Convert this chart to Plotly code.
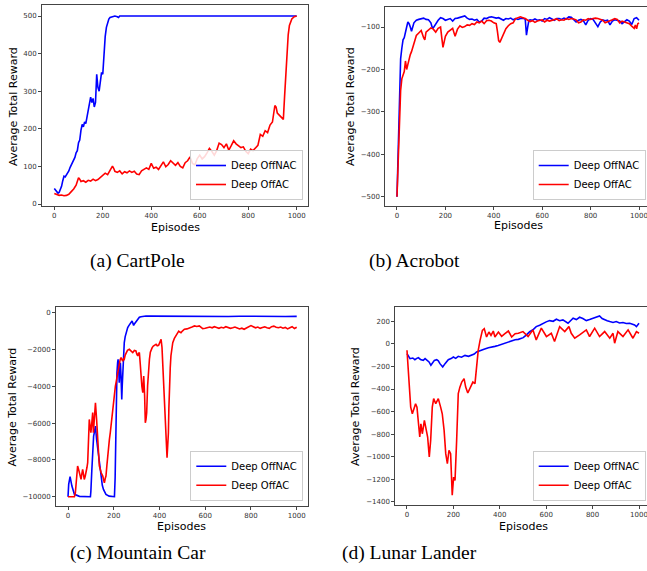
import plotly.graph_objects as go

# ---------------- data ----------------
# (a) CartPole
cp_nac_x = [0, 5, 10, 15, 20, 25, 30, 35, 40, 45, 50, 55, 60, 65, 70, 75, 80, 85, 90, 95, 100, 105, 110, 115, 120, 125,
            130, 135, 140, 145, 150, 155, 160, 165, 170, 175, 180, 185, 190, 195, 200, 205, 210, 215, 220, 225, 230, 240,
            250, 260, 265, 270, 280, 300, 400, 500, 600, 700, 800, 900, 1000]
cp_nac_y = [41, 36, 32, 29, 31, 40, 47, 62, 74, 72, 77, 82, 88, 97, 104, 112, 118, 124, 136, 142, 163, 170, 196, 212, 205,
            218, 214, 232, 247, 276, 284, 270, 281, 258, 270, 345, 310, 300, 322, 350, 345, 410, 445, 470, 485, 492, 496,
            499, 500, 498, 496, 500, 500, 500, 500, 500, 500, 500, 500, 500, 500]
cp_ac_x = [0, 10, 20, 30, 40, 50, 60, 70, 80, 90, 100, 105, 110, 120, 130, 140, 150, 160, 170, 180, 190, 200, 210, 220, 230,
           240, 245, 250, 260, 270, 280, 290, 300, 310, 320, 330, 340, 350, 360, 370, 380, 390, 400, 410, 420, 430, 440,
           450, 460, 470, 480, 490, 500, 510, 520, 530, 540, 550, 560, 570, 580, 590, 600, 610, 620, 630, 640, 650, 660,
           670, 680, 690, 700, 710, 720, 730, 740, 750, 760, 770, 780, 790, 800, 810, 820, 830, 840, 850, 860, 870, 880,
           890, 900, 910, 915, 920, 930, 940, 945, 950, 955, 960, 965, 970, 980, 990, 1000]
cp_ac_y = [28, 25, 23, 24, 22, 23, 26, 33, 40, 50, 70, 66, 60, 62, 58, 63, 61, 66, 62, 65, 70, 75, 82, 78, 88, 101, 95, 87,
           84, 88, 80, 86, 83, 88, 84, 87, 80, 78, 88, 91, 96, 92, 108, 95, 98, 92, 104, 112, 99, 105, 115, 108, 103, 110,
           100, 96, 110, 115, 125, 108, 104, 121, 130, 120, 126, 136, 148, 140, 130, 142, 162, 158, 150, 160, 143, 155,
           168, 160, 156, 150, 152, 140, 134, 146, 142, 150, 156, 185, 180, 195, 190, 210, 218, 262, 258, 242, 235, 230,
           225, 285, 345, 410, 450, 475, 492, 498, 500]

# (b) Acrobot
ac_nac_x = [0, 5, 10, 15, 20, 25, 30, 35, 40, 45, 50, 55, 60, 70, 80, 90, 100, 110, 120, 130, 140, 145, 150, 160, 170, 180,
            190, 200, 210, 220, 230, 240, 250, 260, 270, 280, 290, 300, 310, 320, 330, 340, 350, 360, 370, 380, 390, 400,
            410, 420, 430, 440, 450, 460, 470, 480, 490, 500, 510, 520, 530, 535, 540, 545, 550, 560, 570, 580, 590, 600,
            610, 620, 630, 640, 650, 660, 670, 680, 690, 700, 710, 720, 730, 740, 750, 760, 770, 780, 790, 800, 810, 820,
            830, 840, 850, 860, 870, 880, 890, 900, 910, 920, 930, 940, 950, 960, 970, 980, 990, 1000]
ac_nac_y = [-500, -380, -260, -175, -150, -130, -125, -108, -100, -88, -92, -100, -110, -90, -84, -82, -81, -79, -82, -83,
            -90, -100, -102, -92, -84, -78, -80, -84, -82, -80, -86, -80, -79, -77, -76, -74, -79, -82, -81, -84, -82, -88,
            -86, -79, -80, -77, -76, -78, -79, -78, -82, -84, -80, -81, -79, -83, -80, -82, -80, -79, -82, -119, -100, -84,
            -83, -84, -81, -84, -83, -86, -80, -82, -78, -81, -84, -80, -80, -82, -79, -81, -76, -77, -82, -88, -84, -82,
            -85, -95, -84, -80, -82, -90, -99, -88, -83, -85, -84, -95, -86, -83, -84, -86, -92, -88, -83, -86, -94, -80,
            -78, -84]
ac_ac_x = [0, 5, 10, 15, 20, 25, 30, 35, 40, 45, 50, 55, 60, 65, 70, 75, 80, 90, 100, 110, 115, 120, 130, 140, 150, 160,
           170, 180, 185, 190, 195, 200, 210, 220, 230, 240, 245, 250, 260, 270, 280, 290, 300, 310, 320, 330, 340, 350,
           360, 370, 380, 390, 400, 410, 415, 420, 425, 430, 435, 440, 450, 460, 470, 480, 490, 500, 510, 520, 530, 540,
           550, 560, 570, 580, 590, 600, 610, 620, 630, 640, 650, 660, 670, 680, 690, 700, 710, 720, 730, 740, 750, 760,
           770, 780, 790, 800, 810, 820, 830, 840, 850, 860, 870, 880, 890, 900, 910, 920, 930, 940, 950, 960, 970, 980,
           985, 990, 995, 1000]
ac_ac_y = [-500, -400, -300, -250, -222, -210, -205, -180, -200, -188, -175, -165, -158, -148, -140, -128, -120, -114, -108,
           -125, -130, -112, -108, -102, -105, -112, -103, -100, -125, -148, -135, -122, -112, -108, -103, -122, -110,
           -105, -97, -101, -99, -95, -96, -92, -94, -88, -90, -86, -92, -85, -84, -86, -90, -92, -110, -132, -136, -130,
           -125, -118, -104, -97, -92, -90, -80, -78, -76, -78, -80, -84, -87, -85, -89, -86, -84, -83, -88, -84, -86,
           -84, -82, -81, -85, -83, -84, -80, -82, -80, -81, -83, -90, -88, -83, -84, -80, -82, -80, -79, -80, -82, -84,
           -90, -88, -85, -83, -80, -82, -90, -86, -88, -90, -92, -98, -103, -95, -104, -92, -90]

# (c) Mountain Car
mc_nac_x = [0, 3, 9, 17, 28, 50, 98, 100, 104, 108, 112, 115, 120, 125, 130, 135, 140, 145, 150, 155, 160, 166, 180, 200,
            203, 206, 208, 210, 212, 214, 217, 219, 222, 224, 227, 229, 232, 235, 237, 239, 243, 246, 250, 254, 258, 261,
            266, 271, 276, 280, 284, 287, 291, 294, 300, 305, 312, 319, 330, 341, 360, 400, 450, 500, 550, 600, 650, 700,
            750, 800, 850, 900, 950, 1000]
mc_nac_y = [-10000, -9330, -8910, -9420, -9870, -9980, -10000, -9700, -8600, -7240, -6700, -6520, -6160, -6880, -7400,
            -8000, -8600, -9050, -9380, -9600, -9760, -9870, -9970, -10000, -10000, -9000, -7000, -5070, -4000, -3260,
            -2700, -2530, -3200, -3800, -3000, -2720, -3500, -4710, -4000, -3260, -2400, -1630, -1300, -1080, -900, -810,
            -700, -630, -520, -450, -580, -690, -600, -540, -420, -325, -250, -220, -190, -180, -185, -190, -185, -195,
            -190, -200, -195, -205, -190, -200, -195, -200, -205, -200]
mc_ac_x = [0, 28, 32, 35, 38, 42, 46, 50, 54, 57, 60, 64, 68, 71, 75, 79, 83, 86, 90, 93, 97, 100, 104, 108, 111, 115, 120,
           125, 130, 134, 137, 145, 152, 156, 159, 163, 166, 170, 173, 177, 181, 185, 188, 192, 195, 199, 203, 207, 210,
           214, 217, 221, 224, 228, 232, 236, 239, 243, 246, 250, 254, 260, 268, 275, 283, 290, 297, 301, 305, 309, 312,
           316, 319, 323, 327, 331, 335, 338, 341, 344, 348, 352, 356, 360, 363, 368, 373, 379, 385, 390, 396, 402, 407,
           411, 414, 418, 421, 425, 429, 431, 433, 436, 439, 441, 443, 447, 450, 454, 458, 465, 472, 478, 484, 489, 494,
           500, 509, 520, 531, 542, 553, 563, 574, 582, 589, 600, 610, 620, 630, 640, 650, 660, 670, 680, 690, 700, 710,
           720, 730, 740, 750, 760, 770, 780, 790, 800, 810, 820, 830, 840, 850, 860, 870, 880, 890, 900, 910, 920, 930,
           940, 950, 960, 970, 980, 990, 1000]
mc_ac_y = [-10000, -10000, -9800, -9420, -8900, -8330, -8500, -8700, -8900, -9060, -8800, -8510, -8800, -9060, -8900,
           -8700, -8400, -8150, -7000, -5800, -6200, -6520, -6000, -5430, -6520, -5800, -4890, -5800, -7240, -7900, -8330,
           -8700, -8880, -9100, -9240, -9000, -8880, -8300, -7790, -7300, -6880, -6500, -6160, -5600, -5070, -4700, -4350,
           -4000, -3800, -3500, -3260, -3000, -2720, -2550, -2440, -2600, -2630, -2500, -2530, -2300, -2170, -2050, -1990,
           -2100, -2170, -2050, -2080, -2250, -2350, -2200, -2170, -2800, -3620, -4000, -4350, -3440, -4500, -5980, -5800,
           -5430, -3980, -3000, -2530, -2150, -1990, -1900, -1810, -1750, -1720, -1800, -1770, -1600, -1450, -1900, -2720,
           -3700, -4710, -5600, -6520, -7300, -7880, -7200, -6520, -5200, -3980, -3000, -2350, -1950, -1630, -1400, -1270,
           -1100, -1000, -1050, -1090, -1000, -900, -880, -810, -780, -720, -750, -720, -780, -870, -850, -800, -780, -820,
           -760, -800, -850, -790, -830, -760, -800, -850, -820, -780, -830, -880, -840, -900, -830, -760, -700, -760,
           -820, -780, -850, -800, -770, -820, -850, -760, -730, -790, -820, -780, -840, -800, -880, -820, -760, -860, -790]

# (d) Lunar Lander
ll_nac_x = [0, 13, 25, 34, 42, 49, 58, 70, 78, 85, 95, 103, 110, 118, 128, 135, 142, 148, 154, 164, 172, 178, 190, 200,
            210, 221, 235, 250, 265, 279, 290, 300, 311, 322, 335, 351, 365, 379, 393, 408, 422, 437, 452, 466, 480, 501,
            515, 529, 543, 557, 572, 586, 600, 615, 630, 644, 658, 672, 684, 694, 705, 716, 730, 744, 758, 773, 787, 802,
            816, 830, 841, 852, 863, 874, 888, 902, 916, 931, 945, 960, 970, 981, 989, 995, 1000]
ll_nac_y = [-86, -131, -125, -140, -128, -122, -138, -146, -130, -146, -160, -190, -170, -146, -140, -150, -175, -190,
            -205, -175, -160, -140, -130, -116, -128, -110, -118, -102, -110, -102, -90, -72, -62, -51, -45, -34, -30, -22,
            -15, -4, 5, 16, 22, 37, 40, 55, 80, 109, 125, 153, 165, 183, 195, 206, 200, 218, 205, 212, 200, 183, 205, 227,
            215, 236, 225, 206, 215, 227, 235, 248, 225, 212, 205, 198, 190, 198, 185, 189, 180, 183, 175, 168, 153, 165,
            183]
ll_ac_x = [0, 6, 10, 16, 23, 32, 37, 43, 49, 55, 60, 66, 75, 82, 89, 96, 102, 109, 115, 124, 135, 145, 152, 160, 167, 174,
           181, 188, 193, 195, 201, 207, 214, 221, 228, 236, 246, 253, 262, 267, 276, 284, 293, 300, 307, 315, 325, 333,
           343, 353, 362, 372, 379, 394, 408, 422, 437, 451, 466, 480, 500, 522, 543, 557, 579, 601, 622, 636, 658, 680,
           698, 708, 723, 744, 773, 787, 809, 830, 852, 874, 888, 895, 909, 931, 953, 974, 989, 1000]
ll_ac_y = [-57, -235, -383, -560, -619, -560, -530, -560, -678, -825, -708, -796, -678, -766, -825, -1002, -855, -560, -485,
           -530, -485, -560, -619, -766, -972, -1061, -943, -972, -1209, -1341, -1179, -1209, -855, -441, -383, -338, -308,
           -383, -435, -412, -383, -338, -352, -190, -57, 31, 120, 135, 61, 105, 76, 114, 61, 105, 67, 90, 114, 61, 90, 94,
           109, 65, 124, 35, 139, 65, 94, 21, 153, 109, 153, 94, 50, 80, 124, 65, 139, 65, 109, 50, 94, 6, 109, 65, 124,
           50, 109, 94]

x_ticks = [0, 200, 400, 600, 800, 1000]
cp_yticks = [0, 100, 200, 300, 400, 500]
ac_yticks = [-500, -400, -300, -200, -100]
mc_yticks = [-10000, -8000, -6000, -4000, -2000, 0]
ll_yticks = [-1400, -1200, -1000, -800, -600, -400, -200, 0, 200]

captions = ["(a) CartPole", "(b) Acrobot", "(c) Mountain Car", "(d) Lunar Lander"]
series_names = ["Deep OffNAC", "Deep OffAC"]
y_title = "Average Total Reward"
x_title = "Episodes"

# ---------------- layout helpers ----------------
W, H = 647, 571
BLUE, RED = "#0000ff", "#ff0000"
SANS = "DejaVu Sans"


def px(x):
    return x / W


def py(y):
    return 1 - y / H


def fmt(v):
    s = str(abs(v))
    return ("\u2212" + s) if v < 0 else s


panels = [
    dict(data=(cp_nac_x, cp_nac_y, cp_ac_x, cp_ac_y), dx=(42, 308), dy=(5, 206),
         xr=[-50.7, 1046.7], yr=[-5.3, 529.3], yt=cp_yticks, mirror=True,
         leg=(303, 200), ytitle=(13, 107), xtitle=(175, 227), cap=(137.5, 261)),
    dict(data=(ac_nac_x, ac_nac_y, ac_ac_x, ac_ac_y), dx=(385.3, 647), dy=(7.3, 205.7),
         xr=[-48.3, 1033], yr=[-521, -53.5], yt=ac_yticks, mirror=False,
         leg=(645.7, 200), ytitle=(350, 107), xtitle=(518, 226), cap=(414, 261)),
    dict(data=(mc_nac_x, mc_nac_y, mc_ac_x, mc_ac_y), dx=(56, 307.7), dy=(306.7, 506),
         xr=[-52.5, 1048], yr=[-10505, 326], yt=mc_yticks, mirror=True,
         leg=(303.3, 500.7), ytitle=(12, 407.5), xtitle=(182, 526), cap=(137.5, 553)),
    dict(data=(ll_nac_x, ll_nac_y, ll_ac_x, ll_ac_y), dx=(395.3, 647), dy=(307.3, 505),
         xr=[-50.4, 1034.5], yr=[-1427, 324], yt=ll_yticks, mirror=False,
         leg=(645.7, 500.7), ytitle=(355, 407), xtitle=(523, 526), cap=(409, 553)),
]

fig = go.Figure()
annotations = []
layout = {}
for i, p in enumerate(panels):
    n = i + 1
    xa = "x" if n == 1 else f"x{n}"
    ya = "y" if n == 1 else f"y{n}"
    xkey = "xaxis" if n == 1 else f"xaxis{n}"
    ykey = "yaxis" if n == 1 else f"yaxis{n}"
    legkey = "legend" if n == 1 else f"legend{n}"
    nx, ny, ax_, ay_ = p["data"]
    for xs, ys, col, name in ((nx, ny, BLUE, series_names[0]), (ax_, ay_, RED, series_names[1])):
        fig.add_trace(go.Scatter(x=xs, y=ys, mode="lines", name=name,
                                 line=dict(color=col, width=1.6),
                                 xaxis=xa, yaxis=ya, legend=legkey))
    common = dict(showgrid=False, zeroline=False, showline=True, linecolor="#444444", linewidth=1,
                  ticks="outside", ticklen=3, tickwidth=1, tickcolor="#444444", automargin=False,
                  ticklabeloverflow="allow",
                  tickfont=dict(family=SANS, size=7, color="#333333"))
    layout[xkey] = dict(domain=[px(p["dx"][0]), min(1.0, px(p["dx"][1]))], range=p["xr"],
                        tickvals=x_ticks, ticktext=[fmt(v) for v in x_ticks],
                        anchor=ya, mirror=True, **common)
    layout[ykey] = dict(domain=[py(p["dy"][1]), py(p["dy"][0])], range=p["yr"],
                        tickvals=p["yt"], ticktext=[fmt(v) for v in p["yt"]],
                        anchor=xa, mirror=p["mirror"], **common)
    layout[legkey] = dict(x=px(p["leg"][0]), y=py(p["leg"][1]), xanchor="right", yanchor="bottom",
                          xref="paper", yref="paper",
                          bgcolor="rgba(255,255,255,0.85)", bordercolor="#cccccc", borderwidth=1,
                          font=dict(family=SANS, size=10, color="#000000"), tracegroupgap=0,
                          itemwidth=30)
    annotations.append(dict(x=px(p["ytitle"][0]), y=py(p["ytitle"][1]), xref="paper", yref="paper",
                            text=y_title, textangle=-90, showarrow=False,
                            font=dict(family=SANS, size=11, color="#000000"),
                            xanchor="center", yanchor="middle"))
    annotations.append(dict(x=px(p["xtitle"][0]), y=py(p["xtitle"][1]), xref="paper", yref="paper",
                            text=x_title, showarrow=False,
                            font=dict(family=SANS, size=11, color="#000000"),
                            xanchor="center", yanchor="middle"))
    annotations.append(dict(x=px(p["cap"][0]), y=py(p["cap"][1]), xref="paper", yref="paper",
                            text=captions[i], showarrow=False,
                            font=dict(family="Liberation Serif", size=19.5, color="#000000"),
                            xanchor="center", yanchor="middle"))

fig.update_layout(width=W, height=H, margin=dict(l=0, r=0, t=0, b=0, autoexpand=False),
                  paper_bgcolor="white", plot_bgcolor="white", hovermode=False,
                  annotations=annotations, showlegend=True, **layout)

fig.write_html("out.html", config={"displayModeBar": False, "staticPlot": True},
               post_script="document.body.style.margin='0px';document.body.style.overflow='hidden';")
